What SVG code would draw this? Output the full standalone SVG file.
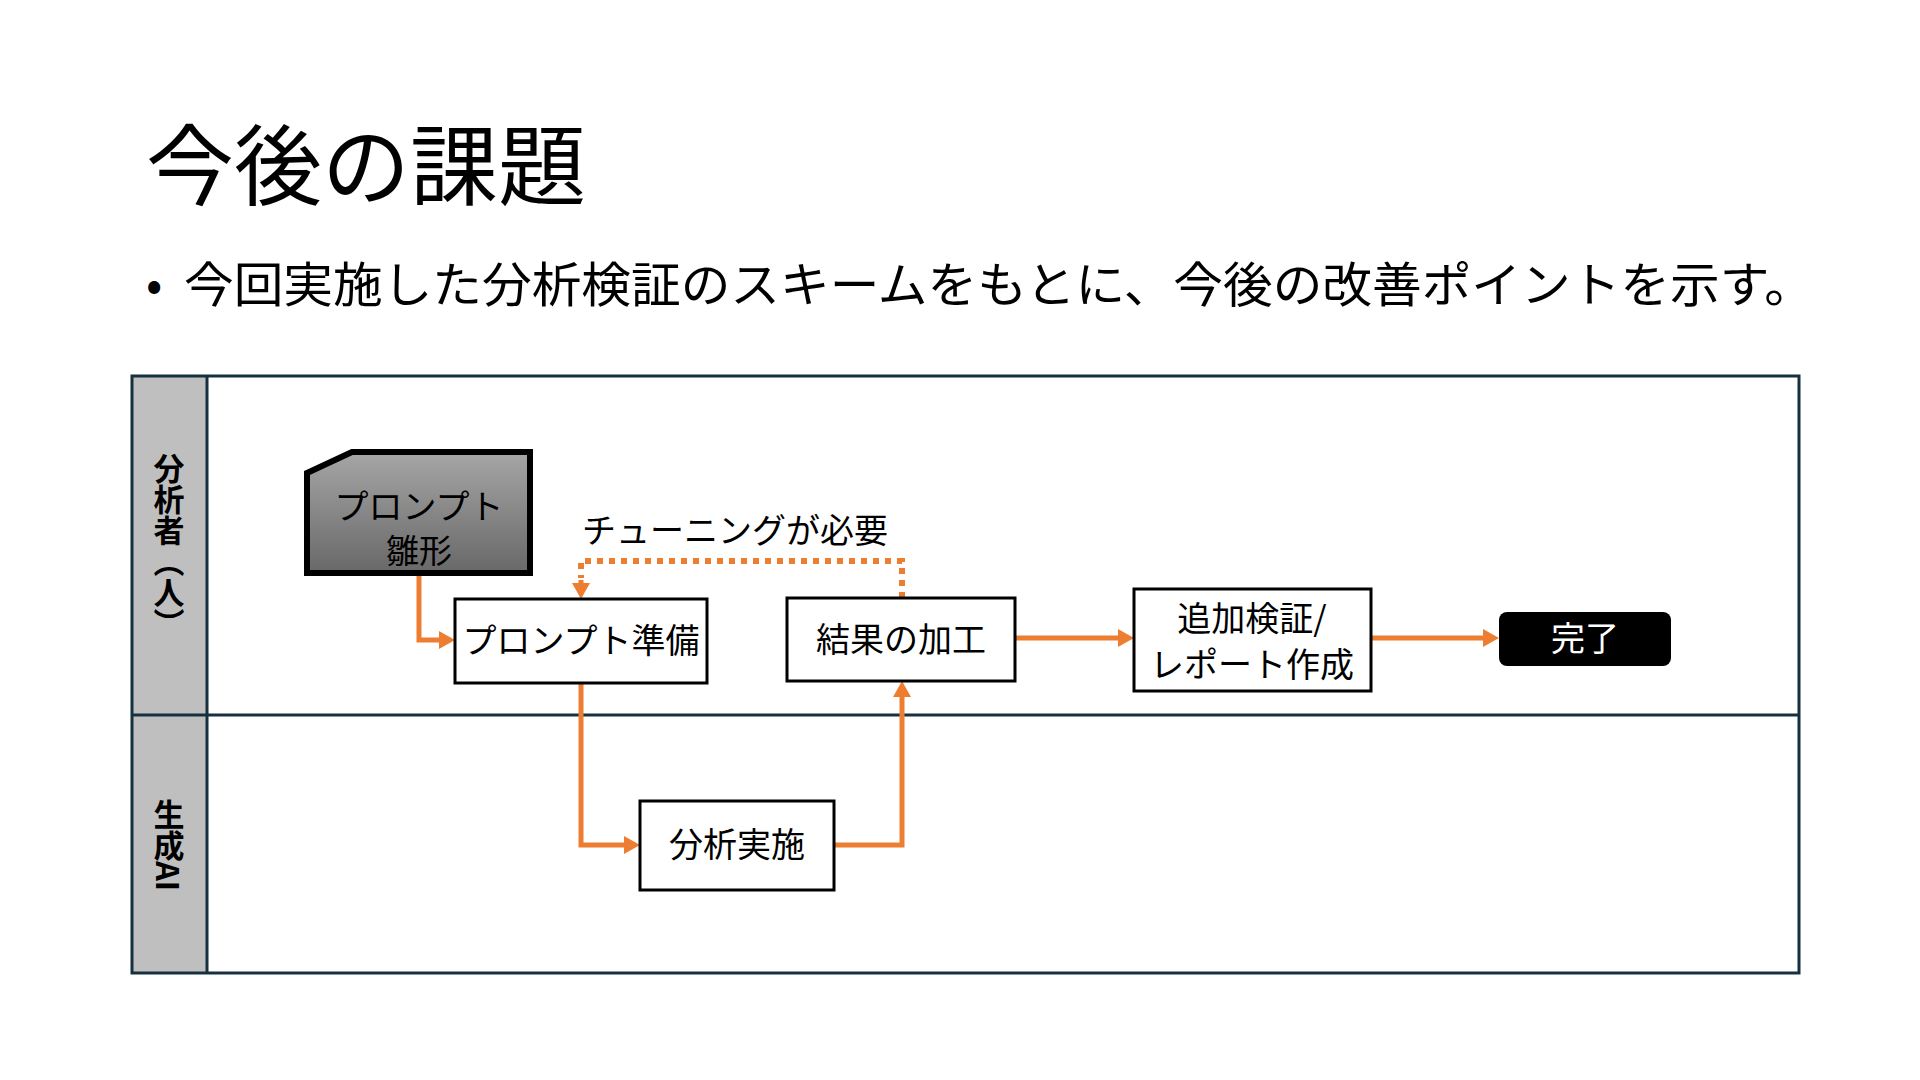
<svg xmlns="http://www.w3.org/2000/svg" width="1920" height="1080" viewBox="0 0 1920 1080">
<style>
text{font-family:"Noto Sans CJK JP","Noto Sans",sans-serif;fill:#000}
.box{fill:#fff;stroke:#000;stroke-width:3}
.lbl{font-size:34px;text-anchor:middle}
.lane{font-size:31px;font-weight:700;writing-mode:vertical-rl;text-anchor:middle}
.frame{fill:none;stroke:#17303F;stroke-width:3}
.con{fill:none;stroke:#ED7D31;stroke-width:5}
.dot{fill:none;stroke:#ED7D31;stroke-width:6;stroke-dasharray:6 6}
</style>
<defs>
<marker id="arr" markerUnits="userSpaceOnUse" markerWidth="20" markerHeight="20" refX="2" refY="9" orient="auto">
<path d="M0,0 L16,9 L0,18 z" fill="#ED7D31"/>
</marker>
<linearGradient id="g" x1="0" y1="0" x2="0" y2="1">
<stop offset="0" stop-color="#A6A6A6"/>
<stop offset="1" stop-color="#686868"/>
</linearGradient>
</defs>
<rect width="1920" height="1080" fill="#fff"/>
<text x="146" y="198" font-size="88">今後の課題</text>
<text x="146" y="302" font-size="48">•</text>
<text x="184" y="302" font-size="48" textLength="1630" lengthAdjust="spacingAndGlyphs">今回実施した分析検証のスキームをもとに、今後の改善ポイントを示す。</text>
<g id="swimlane">
<rect x="132" y="376" width="75" height="597" fill="#BFBFBF"/>
<rect class="frame" x="132" y="376" width="1667" height="597"/>
<line class="frame" x1="207" y1="376" x2="207" y2="973"/>
<line class="frame" x1="132" y1="715" x2="1799" y2="715"/>
<text class="lane" x="169" y="546" font-size="32">分析者（人）</text>
<text class="lane" x="169" y="845" font-size="32">生成AI</text>
</g>
<g id="connectors">
<path class="con" d="M419,573 V640 H441" marker-end="url(#arr)"/>
<path class="con" d="M581,683 V845 H626" marker-end="url(#arr)"/>
<path class="con" d="M834,845 H902 V695" marker-end="url(#arr)"/>
<path class="con" d="M1015,638 H1120" marker-end="url(#arr)"/>
<path class="con" d="M1371,638 H1485" marker-end="url(#arr)"/>
<path class="dot" d="M902,598 V561 H581 V578"/>
<path class="con" d="M581,580 V585" marker-end="url(#arr)"/>
<text x="582" y="543" font-size="34">チューニングが必要</text>
</g>
<g id="template">
<path d="M307,473 L352,452 H530 V573 H307 Z" fill="url(#g)" stroke="#000" stroke-width="6"/>
<text x="419" y="519" font-size="34" text-anchor="middle">プロンプト</text>
<text x="419" y="563" font-size="33" text-anchor="middle">雛形</text>
</g>
<g id="prep">
<rect class="box" x="455" y="599" width="252" height="84"/>
<text class="lbl" x="581" y="653" font-size="33">プロンプト準備</text>
</g>
<g id="process">
<rect class="box" x="787" y="598" width="228" height="83"/>
<text class="lbl" x="901" y="652">結果の加工</text>
</g>
<g id="verify">
<rect class="box" x="1134" y="589" width="237" height="102"/>
<text class="lbl" x="1252" y="631">追加検証/</text>
<text class="lbl" x="1252" y="677">レポート作成</text>
</g>
<g id="done">
<rect x="1499" y="612" width="172" height="54" rx="8" fill="#000"/>
<text class="lbl" x="1585" y="651" style="fill:#fff">完了</text>
</g>
<g id="analyze">
<rect class="box" x="640" y="801" width="194" height="89"/>
<text class="lbl" x="737" y="857">分析実施</text>
</g>
</svg>
